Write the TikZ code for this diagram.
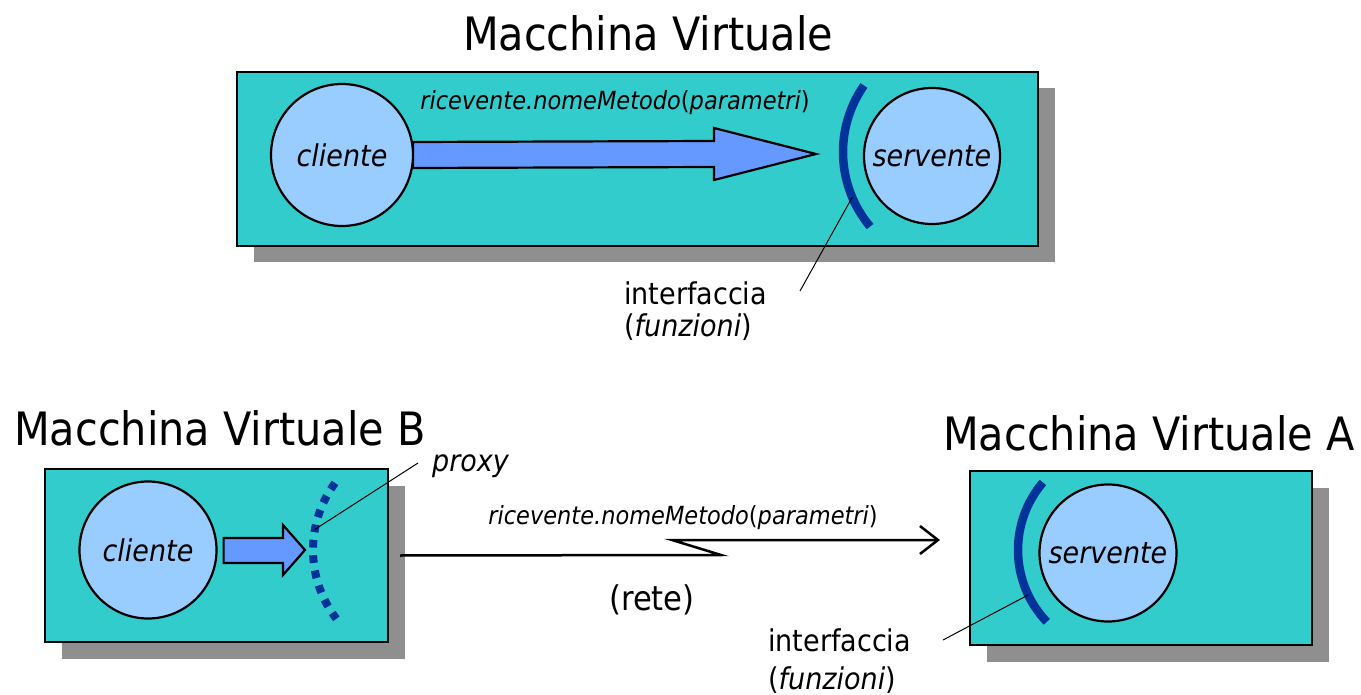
\documentclass[tikz,border=0pt]{standalone}
\usepackage{fontspec}
\setmainfont{DejaVu Sans}[FakeStretch=0.9]
\usetikzlibrary{arrows.meta,calc,shadows}

\definecolor{vmfill}{HTML}{33CCCC}
\definecolor{objfill}{HTML}{99CCFF}
\definecolor{arrfill}{HTML}{6699FF}
\definecolor{ifcol}{HTML}{003399}
\definecolor{shadowgray}{HTML}{8F8F8F}

\tikzset{
  vmbox/.style={draw=black, line width=2.5pt, fill=vmfill, anchor=north west,
    inner sep=0pt, outer sep=0pt,
    drop shadow={shadow xshift=16.5pt, shadow yshift=-16.5pt, opacity=1, fill=shadowgray}},
  obj/.style={circle, draw=black, line width=2.2pt, fill=objfill, inner sep=0pt,
    font=\fontsize{30pt}{36pt}\selectfont\itshape},
  blockarrow/.style={draw=black, line width=2.2pt, fill=arrfill, line join=miter},
  iface/.style={draw=ifcol, line width=8.5pt},
  proxyarc/.style={draw=ifcol, line width=8pt, dash pattern=on 7.7pt off 7.7pt},
  leader/.style={draw=black, line width=1pt},
  net/.style={draw=black, line width=2.5pt, -{Straight Barb[length=18pt, width=28pt]}},
  title/.style={inner sep=0pt, font=\fontsize{46pt}{55pt}\selectfont},
  call/.style={inner sep=0pt, font=\fontsize{25pt}{30pt}\selectfont},
  note/.style={inner sep=0pt, anchor=west, font=\fontsize{30pt}{36pt}\selectfont},
}

\begin{document}
\begin{tikzpicture}[x=1pt, y=-1pt]
\useasboundingbox (0,0) rectangle (1361,695);

% ---------- single virtual machine ----------
\node[title] (ttlT) at (648,33) {Macchina Virtuale};
\node[vmbox, minimum width=801pt, minimum height=174pt] (vmT) at (237,72) {};

\node[obj, minimum size=142pt] (cliT) at (342,155) {cliente};
\node[obj, minimum size=136pt] (srvT) at (932,156) {servente};

\coordinate (tipT) at (816,154);
\draw[blockarrow] ($(cliT.east)+(-1,-13)$) -- (714,141) -- (714,128) -- (tipT)
  -- (714,180) -- (714,167) -- ($(cliT.east)+(-1,13)$) -- cycle;
\node[call] (callT) at (615,103)
  {\textit{ricevente.nomeMetodo}(\textit{parametri})};

\coordinate (ifcT) at (959,152);
\draw[iface] (ifcT) ++(215:116) arc[start angle=215, end angle=140, radius=116];
\coordinate (ifpT) at ($(ifcT)+(157:116)$);

\node[note] (ifT) at (624,293) {interfaccia};
\node[note] (fnT) at (624,327) {(\textit{funzioni})};
\coordinate (ldT) at (800,291);
\draw[leader] (ifpT) -- (ldT);

% ---------- virtual machine B (client side) ----------
\node[title, anchor=west] (ttlB) at (14,428) {Macchina Virtuale B};
\node[vmbox, minimum width=343pt, minimum height=173pt] (vmB) at (45,469) {};

\node[obj, minimum size=137pt] (cliB) at (148,550) {cliente};

\coordinate (tipB) at (305,550);
\draw[blockarrow] ($(cliB.east)+(6,-12)$) -- (283,538) -- (283,525) -- (tipB)
  -- (283,575) -- (283,563) -- ($(cliB.east)+(6,13)$) -- cycle;

\coordinate (pxc) at (426,550);
\draw[proxyarc] (pxc) ++(216.4:113) arc[start angle=216.4, end angle=142.5, radius=113];
\coordinate (pxp) at ($(pxc)+(190.5:113)$);

\node[inner sep=0pt, anchor=west, font=\fontsize{30pt}{36pt}\selectfont\itshape]
  (pxl) at (432,466) {proxy};
\coordinate (ldP) at (418,463);
\draw[leader] (pxp) -- (ldP);

% ---------- virtual machine A (server side) ----------
\node[title, anchor=west] (ttlA) at (943,433) {Macchina Virtuale A};
\node[vmbox, minimum width=342pt, minimum height=174pt] (vmA) at (970,471) {};

\node[obj, minimum size=137pt] (srvA) at (1108,553) {servente};

\coordinate (ifcA) at (1122,550);
\draw[iface] (ifcA) ++(220.5:104) arc[start angle=220.5, end angle=136.3, radius=104];
\coordinate (ifpA) at ($(ifcA)+(154.4:104)$);

\node[note] (ifA) at (768,640) {interfaccia};
\node[note] (fnA) at (768,680) {(\textit{funzioni})};
\coordinate (ldA) at (943,640);
\draw[leader] (ifpA) -- (ldA);

% ---------- remote call over the network ----------
\coordinate (zzLow) at (721,555);
\coordinate (zzHigh) at (672,540);
\draw[net] ($(vmB.east)+(12,0)$) -- (zzLow) -- (zzHigh) -- ($(vmA.west)+(-30,-18)$);
\node[call] (callN) at (683,518)
  {\textit{ricevente.nomeMetodo}(\textit{parametri})};
\node[inner sep=0pt, font=\fontsize{34pt}{40pt}\selectfont] (rete) at (652,600) {(rete)};

\end{tikzpicture}
\end{document}
